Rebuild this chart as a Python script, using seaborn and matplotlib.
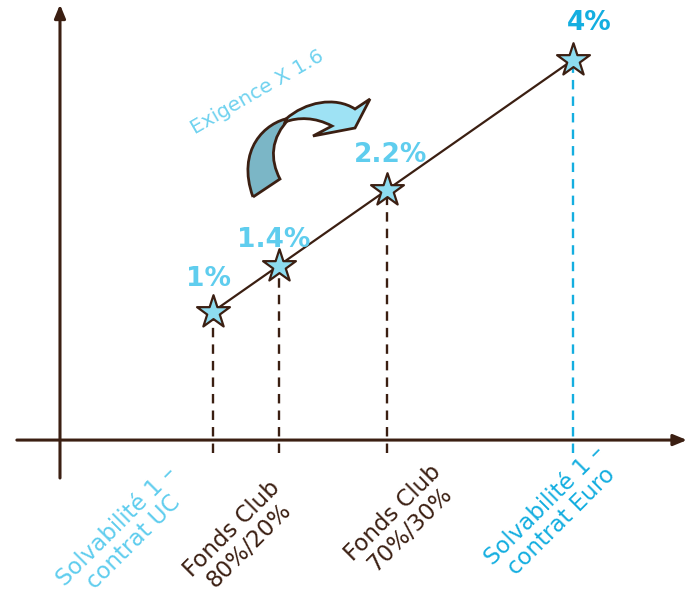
import numpy as np
import pandas as pd
import matplotlib.pyplot as plt
import seaborn as sns
from matplotlib.path import Path
from matplotlib.patches import PathPatch

# --- data ---
categories = ["Solvabilité 1 –\ncontrat UC", "Fonds Club\n80%/20%",
              "Fonds Club\n70%/30%", "Solvabilité 1 –\ncontrat Euro"]
values = [1.0, 1.4, 2.2, 4.0]
value_labels = ["1%", "1.4%", "2.2%", "4%"]
note = "Exigence X 1.6"

df = pd.DataFrame({"cat": categories, "val": values})

brown = "#3b1f12"
light = "#5fcdee"
blue = "#14aee0"
star_fill = "#8ddcf0"
label_colors = [light, brown, brown, blue]
pct_colors = [light, light, light, blue]
dash_colors = [brown, brown, brown, blue]

sns.set_style("white")
plt.rcParams["font.family"] = ["DejaVu Sans"]

fig = plt.figure(figsize=(6.87, 6.06), dpi=100)
ax = fig.add_axes([0, 0, 1, 1])

# signed square-root scale on both axes (schematic spacing)
fwd = lambda v: np.sign(v) * np.sqrt(np.abs(v))
inv = lambda s: np.sign(s) * s ** 2
ax.set_xscale("function", functions=(fwd, inv))
ax.set_yscale("function", functions=(fwd, inv))
ax.set_xlim(0.167, 5.37)
ax.set_ylim(-0.0287, 5.01)
for s in ax.spines.values():
    s.set_visible(False)
ax.set_xticks([])
ax.set_yticks([])

x_axis_y = 0.24
y_axis_x = 0.331

# axes with arrows
ax.annotate("", xy=(5.37, x_axis_y), xytext=(0.2075, x_axis_y),
            arrowprops=dict(arrowstyle="-|>,head_length=0.8,head_width=0.33",
                            color=brown, lw=2.2, shrinkA=0, shrinkB=0))
ax.annotate("", xy=(y_axis_x, 4.93), xytext=(y_axis_x, 0.115),
            arrowprops=dict(arrowstyle="-|>,head_length=0.8,head_width=0.33",
                            color=brown, lw=2.2, shrinkA=0, shrinkB=0))

# dashed drop lines
for v, c in zip(values, dash_colors):
    ax.vlines(v, 0.192, v, colors=c, linestyles=(0, (4, 3)), lw=1.7, zorder=2)

# connecting line + stars
sns.lineplot(data=df, x="val", y="val", color=brown, lw=1.6, ax=ax, zorder=3)
sns.scatterplot(data=df, x="val", y="val", marker="*", s=620, color=star_fill,
                edgecolor=brown, linewidth=1.6, ax=ax, zorder=4)
ax.set_xlabel("")
ax.set_ylabel("")

# value labels
pct_offsets = [(-4, 33), (-5, 26), (4, 35), (16, 37)]
for v, t, c, off in zip(values, value_labels, pct_colors, pct_offsets):
    ax.annotate(t, (v, v), xytext=off, textcoords="offset pixels",
                ha="center", va="center", fontsize=19, fontweight="bold", color=c)

# category labels
cat_offsets = [(-88, -94), (-38, -97), (15, -81), (-20, -73)]
for v, t, c, off in zip(values, categories, label_colors, cat_offsets):
    ax.annotate(t, (v, x_axis_y), xytext=off, textcoords="offset pixels",
                ha="center", va="center", rotation=45, fontsize=16.5, color=c,
                multialignment="center", linespacing=1.05)

# decoration layer in pixel coordinates: curved arrow + note
deco = fig.add_axes([0, 0, 1, 1], facecolor="none")
deco.set_xlim(0, 687)
deco.set_ylim(606, 0)
deco.axis("off")

C, L = Path.CURVE4, Path.LINETO
tail_verts = [(253, 197), (280, 179),
              (270, 160), (270, 138), (290, 118),
              (265, 122), (236, 150), (253, 197)]
tail_codes = [Path.MOVETO, L, C, C, C, C, C, C]
deco.add_patch(PathPatch(Path(tail_verts, tail_codes), facecolor="#7bb6c6",
                         edgecolor=brown, lw=2, zorder=1))

head_verts = [(286, 119),
              (305, 102), (335, 96), (355, 109),
              (370, 99), (355, 128), (313, 136), (332, 126),
              (315, 117), (298, 117), (285, 122),
              (286, 119)]
head_codes = [Path.MOVETO, C, C, C, L, L, L, L, C, C, C, L]
deco.add_patch(PathPatch(Path(head_verts, head_codes), facecolor="#9ee2f4",
                         edgecolor=brown, lw=2, zorder=2))

deco.text(257, 92, note, rotation=30, ha="center", va="center",
          fontsize=14.5, color="#6fd2ef")

fig.savefig("out.png", dpi=100)
